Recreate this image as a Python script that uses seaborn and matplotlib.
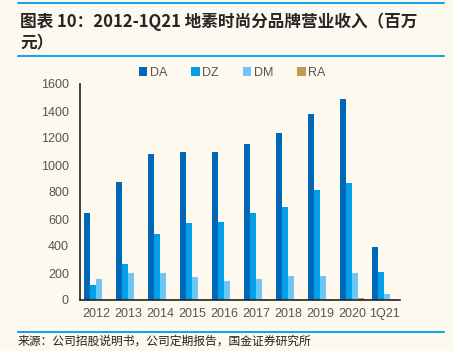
import pandas as pd
import numpy as np
import matplotlib.pyplot as plt
import seaborn as sns
from matplotlib.lines import Line2D
from matplotlib.ticker import MultipleLocator, FixedLocator

years = ['2012', '2013', '2014', '2015', '2016', '2017', '2018', '2019', '2020', '1Q21']
brands = ['DA', 'DZ', 'DM', 'RA']
da = [645, 874, 1079, 1099, 1100, 1153, 1235, 1378, 1487, 392]
dz = [108, 268, 490, 570, 580, 643, 690, 815, 868, 207]
dm = [155, 198, 200, 172, 138, 155, 175, 180, 198, 45]
ra = [0, 0, 0, 0, 0, 8, 6, 7, 16, 5]
colors = ['#0068B7', '#00A0E9', '#6CC7F6', '#C49A55']

df = pd.DataFrame({'year': years, 'DA': da, 'DZ': dz, 'DM': dm, 'RA': ra})
df_long = df.melt(id_vars='year', var_name='brand', value_name='value')

bg = '#FEF9EE'
sns.set_style('white')
plt.rcParams['font.family'] = ['Liberation Sans', 'Noto Sans CJK SC', 'DejaVu Sans']

fig = plt.figure(figsize=(4.53, 3.51), dpi=100, facecolor=bg)
ax = fig.add_axes([80 / 453, 51 / 351, 320 / 453, 216 / 351], facecolor=bg)

sns.barplot(data=df_long, x='year', y='value', hue='brand', hue_order=brands,
            palette=colors, width=0.78, saturation=1, ax=ax, legend=True,
            linewidth=0, edgecolor='none')

ax.set_ylim(0, 1600)
ax.set_xlim(-0.5, 9.5)
ax.yaxis.set_major_locator(MultipleLocator(200))
ax.set_xlabel('')
ax.set_ylabel('')
for s in ['top', 'right']:
    ax.spines[s].set_visible(False)
for s in ['left', 'bottom']:
    ax.spines[s].set_color('#222222')
    ax.spines[s].set_linewidth(1.2)
ax.tick_params(axis='y', which='major', direction='out', length=3, width=1,
               color='#222222', labelsize=9, labelcolor='#555555', pad=5)
ax.tick_params(axis='x', which='major', length=0, labelsize=9, labelcolor='#555555', pad=6)
ax.xaxis.set_minor_locator(FixedLocator(np.arange(-0.5, 10, 1)))
ax.tick_params(axis='x', which='minor', direction='in', length=3, width=1, color='#222222')

leg = ax.legend(loc='center', bbox_to_anchor=(0.475, 1.05), ncol=4, frameon=False,
                handlelength=0.7, handleheight=0.7, handletextpad=0.2, columnspacing=1.9,
                fontsize=9, borderaxespad=0)
for t in leg.get_texts():
    t.set_color('#555555')

# title and source
fig.text(20 / 453, 1 - 22 / 351, '图表 10：2012-1Q21 地素时尚分品牌营业收入（百万',
         fontsize=12, fontweight='bold', fontstyle='italic', va='center', ha='left',
         family=['Noto Sans CJK SC', 'DejaVu Sans'])
fig.text(20 / 453, 1 - 43 / 351, '元）', fontsize=12, fontweight='bold', fontstyle='italic',
         va='center', ha='left', family=['Noto Sans CJK SC', 'DejaVu Sans'])
fig.text(18 / 453, 1 - 341 / 351, '来源：公司招股说明书，公司定期报告，国金证券研究所',
         fontsize=8.5, va='center', ha='left', color='#222222',
         family=['Noto Sans CJK SC', 'DejaVu Sans'])

for yy in [3, 56, 332]:
    fig.add_artist(Line2D([18 / 453, 444 / 453], [1 - yy / 351, 1 - yy / 351],
                          color='#1AA3E8', linewidth=1.5, transform=fig.transFigure))

fig.savefig('out.png', dpi=100, facecolor=bg)
